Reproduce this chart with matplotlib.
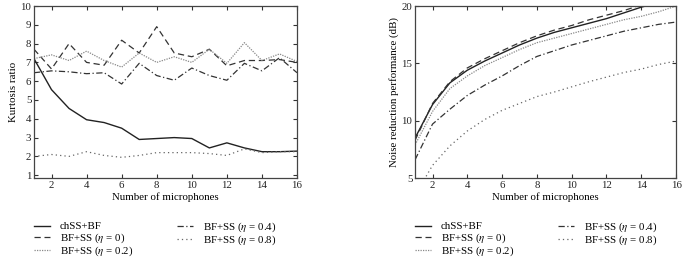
import numpy as np
import matplotlib
matplotlib.use("Agg")
import matplotlib.pyplot as plt

plt.rcParams['font.family'] = ['Liberation Serif', 'DejaVu Serif']
plt.rcParams['mathtext.fontset'] = 'stix'
plt.rcParams['font.size'] = 7.8

mics = np.arange(1, 17)
labels = ['chSS+BF', r'BF+SS ($\eta$ = 0)', r'BF+SS ($\eta$ = 0.2)',
          r'BF+SS ($\eta$ = 0.4)', r'BF+SS ($\eta$ = 0.8)']

# kurtosis ratio (left)
kurt_chss = [7.2, 5.55, 4.55, 3.95, 3.8, 3.5, 2.9, 2.95, 3.0, 2.95, 2.45, 2.72, 2.45, 2.25, 2.25, 2.28]
kurt_e0   = [7.7, 6.65, 8.0, 7.0, 6.85, 8.18, 7.5, 8.9, 7.5, 7.3, 7.7, 6.82, 7.1, 7.1, 7.15, 7.0]
kurt_e02  = [7.2, 7.4, 7.1, 7.6, 7.1, 6.75, 7.5, 7.0, 7.3, 7.0, 7.7, 6.95, 8.05, 7.1, 7.45, 7.05]
kurt_e04  = [6.45, 6.55, 6.5, 6.4, 6.45, 5.85, 6.95, 6.3, 6.05, 6.7, 6.3, 6.05, 6.95, 6.55, 7.25, 6.45]
kurt_e08  = [2.0, 2.1, 2.0, 2.25, 2.05, 1.95, 2.05, 2.2, 2.2, 2.2, 2.15, 2.05, 2.4, 2.2, 2.25, 2.25]

# noise reduction (right)
nr_chss = [8.5, 11.4, 13.3, 14.4, 15.2, 15.9, 16.6, 17.2, 17.7, 18.1, 18.5, 18.9, 19.4, 19.9, 20.3, 20.6]
nr_e0   = [8.3, 11.5, 13.4, 14.6, 15.4, 16.1, 16.8, 17.4, 17.9, 18.3, 18.8, 19.2, 19.6, 20.1, 20.5, 20.9]
nr_e02  = [7.9, 10.8, 12.8, 13.9, 14.8, 15.5, 16.2, 16.8, 17.2, 17.6, 18.0, 18.4, 18.8, 19.1, 19.5, 20.0]
nr_e04  = [6.6, 9.7, 11.0, 12.2, 13.1, 13.9, 14.8, 15.6, 16.1, 16.6, 17.0, 17.4, 17.8, 18.1, 18.4, 18.6]
nr_e08  = [3.5, 6.1, 7.8, 9.1, 10.1, 10.9, 11.5, 12.1, 12.5, 12.95, 13.4, 13.8, 14.2, 14.5, 14.9, 15.2]

styles = [dict(color='#222222', ls='-', lw=1.0),
          dict(color='#333333', ls=(0, (5, 3)), lw=0.9),
          dict(color='#888888', ls=(0, (1, 1)), lw=0.9),
          dict(color='#333333', ls=(0, (5, 2, 1, 2)), lw=0.9),
          dict(color='#666666', ls=(0, (1, 2.5)), lw=0.9)]

fig = plt.figure(figsize=(6.85, 2.61), dpi=100)
ax1 = fig.add_axes([0.0496, 0.318, 0.384, 0.659])
ax2 = fig.add_axes([0.606, 0.318, 0.381, 0.659])

for ys, st, lab in zip([kurt_chss, kurt_e0, kurt_e02, kurt_e04, kurt_e08], styles, labels):
    ax1.plot(mics, ys, label=lab, **st)
for ys, st, lab in zip([nr_chss, nr_e0, nr_e02, nr_e04, nr_e08], styles, labels):
    ax2.plot(mics, ys, label=lab, **st)

ax1.set_xlim(1, 16)
ax1.set_ylim(0.85, 10)
ax1.set_yticks(range(1, 11))
ax1.set_ylabel('Kurtosis ratio', labelpad=2)
ax2.set_xlim(1, 16)
ax2.set_ylim(5, 20)
ax2.set_yticks([5, 10, 15, 20])
ax2.set_ylabel('Noise reduction performance (dB)', labelpad=2)

for ax in (ax1, ax2):
    ax.set_xticks(range(2, 17, 2))
    ax.set_xlabel('Number of microphones', labelpad=2)
    ax.tick_params(direction='in', top=True, right=True, length=3, width=0.8,
                   pad=2, colors='#333333', labelcolor='#222222')
    for s in ax.spines.values():
        s.set_linewidth(0.9)
        s.set_color('#444444')
    ax.legend(loc='upper left', bbox_to_anchor=(0.0, -0.245), ncol=2, frameon=False,
              borderpad=0, borderaxespad=0, handlelength=1.5, handletextpad=0.9,
              columnspacing=4.0, labelspacing=0.0)

fig.savefig('out.png', dpi=100)
